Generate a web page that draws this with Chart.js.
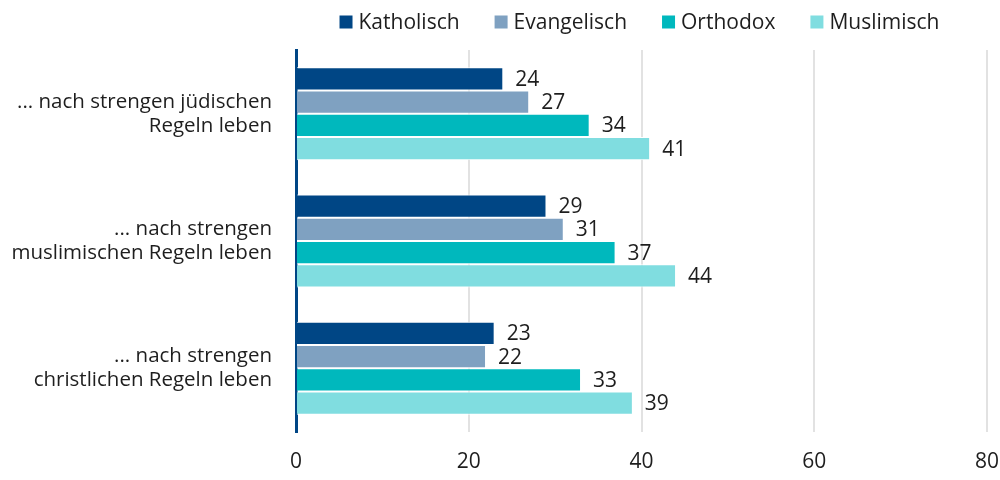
<!DOCTYPE html>
<html>
<head>
<meta charset="utf-8">
<script src="https://cdn.jsdelivr.net/npm/chart.js@4"></script>
<style>
  html, body { margin: 0; padding: 0; background: #fff; }
  #wrap { width: 1000px; height: 480px; }
</style>
</head>
<body>
<div id="wrap"><canvas id="chart" width="1000" height="480"></canvas></div>
<script>
// Kategorien (mehrzeilig)
const categories = [
  ['... nach strengen jüdischen', 'Regeln leben'],
  ['... nach strengen', 'muslimischen Regeln leben'],
  ['... nach strengen', 'christlichen Regeln leben'],
];

const katholisch = [24, 29, 23];
const evangelisch = [27, 31, 22];
const orthodox = [34, 37, 33];
const muslimisch = [41, 44, 39];

const seriesNames = ['Katholisch', 'Evangelisch', 'Orthodox', 'Muslimisch'];
const seriesColors = ['#004685', '#7fa1c1', '#00b8bd', '#80dde0'];

const FONT = "'Open Sans', 'Noto Sans', sans-serif";
const FONT_SIZE = 21;
const TEXT = '#1e1e1e';

// ------------------ Werte-Beschriftung ------------------
const valueLabels = {
  id: 'valueLabels',
  afterDatasetsDraw(chart) {
    const ctx = chart.ctx;
    ctx.save();
    ctx.font = FONT_SIZE + 'px ' + FONT;
    ctx.fillStyle = TEXT;
    ctx.textAlign = 'left';
    ctx.textBaseline = 'middle';
    chart.data.datasets.forEach((ds, i) => {
      chart.getDatasetMeta(i).data.forEach((bar, j) => {
        ctx.fillText(String(ds.data[j]), bar.x + 12, bar.y + 1);
      });
    });
    ctx.restore();
  },
};

// ------------------ Legende (über dem Diagrammbereich zentriert) ------------------
const topLegend = {
  id: 'topLegend',
  afterDraw(chart) {
    const ctx = chart.ctx;
    const box = 13, gap = 6, itemGap = 35;
    ctx.save();
    ctx.font = FONT_SIZE + 'px ' + FONT;
    ctx.textBaseline = 'middle';
    ctx.textAlign = 'left';
    const items = chart.data.datasets.map(ds => ({
      text: ds.label,
      color: ds.backgroundColor,
      w: box + gap + ctx.measureText(ds.label).width,
    }));
    const total = items.reduce((s, it) => s + it.w, 0) + itemGap * (items.length - 1);
    const area = chart.chartArea;
    let x = (area.left + area.right) / 2 - total / 2 - 2;
    const y = 22;
    items.forEach(it => {
      ctx.fillStyle = it.color;
      ctx.fillRect(x, y - box / 2, box, box);
      ctx.fillStyle = TEXT;
      ctx.fillText(it.text, x + box + gap, y + 1);
      x += it.w + itemGap;
    });
    ctx.restore();
  },
};

const values = [katholisch, evangelisch, orthodox, muslimisch];

new Chart(document.getElementById('chart'), {
  type: 'bar',
  data: {
    labels: categories,
    datasets: seriesNames.map((name, i) => ({
      label: name,
      data: values[i],
      backgroundColor: seriesColors[i],
      borderColor: '#ffffff',
      borderWidth: 1,
      barPercentage: 1,
      categoryPercentage: 0.73,
    })),
  },
  options: {
    indexAxis: 'y',
    responsive: false,
    animation: false,
    layout: {
      padding: { top: 50, right: 0, left: 0, bottom: 0 },
    },
    plugins: {
      legend: { display: false },
      tooltip: { enabled: false },
    },
    scales: {
      x: {
        min: 0,
        max: 80,
        ticks: {
          stepSize: 20,
          padding: 17,
          color: TEXT,
          font: { family: FONT, size: FONT_SIZE },
        },
        grid: {
          color: ctx => (ctx.index === 0 ? 'rgba(0,0,0,0)' : '#e2e2e2'),
          lineWidth: 2,
          drawTicks: false,
        },
        border: { display: false },
        afterFit: s => {
          s.height = 40;
          s.paddingRight = 13;
        },
      },
      y: {
        ticks: {
          padding: 24,
          color: TEXT,
          font: { family: FONT, size: 20.5, lineHeight: 1.17 },
        },
        grid: { display: false, drawTicks: false },
        border: { display: true, color: '#004685', width: 3 },
        afterFit: s => { s.width = 296; },
      },
    },
  },
  plugins: [valueLabels, topLegend],
});
</script>
</body>
</html>
